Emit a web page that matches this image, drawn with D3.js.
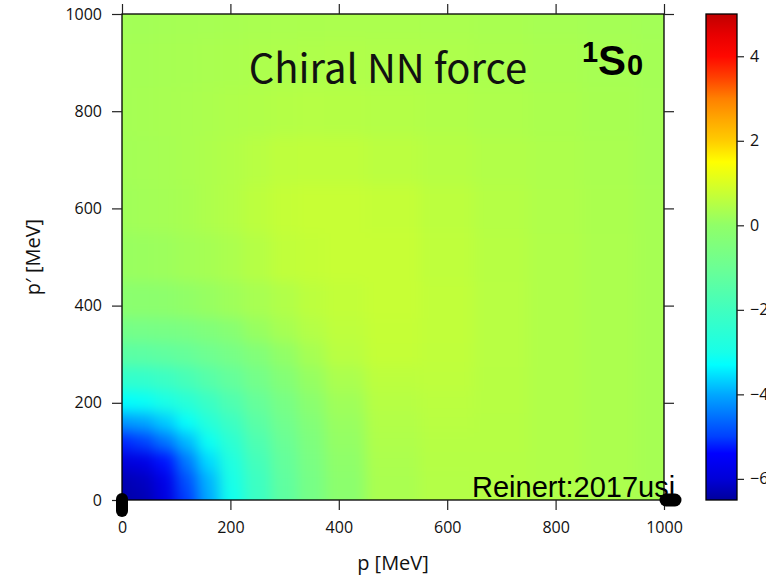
<!DOCTYPE html>
<html><head><meta charset="utf-8">
<script src="https://cdn.jsdelivr.net/npm/d3@7"></script>
<style>html,body{margin:0;padding:0;background:#fff;overflow:hidden}</style>
</head><body><svg id="c" width="766" height="576"></svg>
<script>
// momentum grid nodes (MeV)
const pNodes      = [0, 40, 80, 120, 160, 200, 250, 300, 350, 400, 500, 600, 700, 800, 900, 1000];
const pPrimeNodes = [0, 40, 80, 120, 160, 200, 250, 300, 350, 400, 500, 600, 700, 800, 900, 1000];
// potential V(p, p') ; one row per p' node, one column per p node
const potential = [
  [-6.40,-6.31,-5.89,-5.02,-4.00,-3.09,-2.13,-1.31,-0.71,-0.13, 0.35, 0.48, 0.50, 0.45, 0.38, 0.30],
  [-6.32,-6.19,-5.76,-4.84,-3.90,-3.00,-2.07,-1.28,-0.69,-0.11, 0.35, 0.48, 0.50, 0.45, 0.38, 0.30],
  [-5.95,-5.80,-5.29,-4.45,-3.60,-2.80,-1.91,-1.18,-0.62,-0.04, 0.38, 0.50, 0.50, 0.45, 0.38, 0.30],
  [-5.17,-4.99,-4.50,-3.87,-3.16,-2.49,-1.69,-1.04,-0.51, 0.05, 0.42, 0.52, 0.52, 0.45, 0.38, 0.30],
  [-4.18,-4.05,-3.73,-3.23,-2.67,-2.09,-1.41,-0.87,-0.36, 0.12, 0.46, 0.55, 0.52, 0.45, 0.38, 0.30],
  [-3.30,-3.20,-2.95,-2.59,-2.15,-1.67,-1.13,-0.66,-0.15, 0.22, 0.52, 0.58, 0.53, 0.45, 0.38, 0.30],
  [-2.35,-2.29,-2.11,-1.83,-1.51,-1.18,-0.77,-0.35, 0.08, 0.36, 0.60, 0.62, 0.53, 0.45, 0.38, 0.30],
  [-1.40,-1.37,-1.28,-1.14,-0.93,-0.70,-0.39, 0.02, 0.30, 0.55, 0.70, 0.65, 0.54, 0.45, 0.38, 0.30],
  [-0.75,-0.73,-0.67,-0.58,-0.44,-0.25, 0.10, 0.30, 0.48, 0.62, 0.72, 0.66, 0.54, 0.45, 0.38, 0.30],
  [-0.15,-0.13,-0.08, 0.02, 0.10, 0.20, 0.32, 0.45, 0.60, 0.68, 0.74, 0.66, 0.54, 0.45, 0.38, 0.30],
  [ 0.12, 0.14, 0.18, 0.24, 0.30, 0.38, 0.50, 0.65, 0.70, 0.74, 0.74, 0.64, 0.53, 0.44, 0.38, 0.30],
  [ 0.22, 0.25, 0.28, 0.33, 0.40, 0.48, 0.60, 0.70, 0.74, 0.74, 0.70, 0.60, 0.50, 0.43, 0.37, 0.30],
  [ 0.26, 0.28, 0.31, 0.35, 0.40, 0.46, 0.54, 0.62, 0.64, 0.63, 0.58, 0.52, 0.46, 0.40, 0.35, 0.28],
  [ 0.28, 0.30, 0.32, 0.35, 0.38, 0.42, 0.45, 0.49, 0.51, 0.50, 0.48, 0.45, 0.41, 0.37, 0.33, 0.28],
  [ 0.28, 0.29, 0.31, 0.33, 0.35, 0.37, 0.39, 0.41, 0.42, 0.43, 0.42, 0.40, 0.37, 0.34, 0.31, 0.27],
  [ 0.25, 0.26, 0.28, 0.30, 0.31, 0.33, 0.35, 0.36, 0.37, 0.38, 0.38, 0.36, 0.34, 0.31, 0.28, 0.25]
];
const axisTicks  = [0, 200, 400, 600, 800, 1000];
const colorTicks = [4, 2, 0, -2, -4, -6];
const colorRange = [-6.5, 5];

// colour map (style)
const cmapStops  = [-6.5,-6.0,-5.4,-5.0,-4.0,-3.3,-3.0,-2.0,-1.0,0.0,1.5,2.0,2.5,3.0,3.5,4.0,4.5,5.0];
const cmapColors = ["#00009c","#0000d8","#0000ff","#0040ff","#00a8ff","#00ffff","#18ffe8","#40ffbf","#6cff94","#90ff68","#ffff00","#ffcc00","#ffa800","#ff8000","#ff4000","#ff0800","#e80000","#c00000"];

const svg = d3.select('#c');
svg.append('rect').attr('width',766).attr('height',576).attr('fill','#fff');

const x = d3.scaleLinear().domain([0,1000]).range([122,664]);
const y = d3.scaleLinear().domain([0,1000]).range([500,14]);
const color = d3.scaleLinear().domain(cmapStops).range(cmapColors).clamp(true);

const defs = svg.append('defs');
defs.append('clipPath').attr('id','plotClip').append('rect')
  .attr('x',x(0)).attr('y',y(1000)).attr('width',x(1000)-x(0)).attr('height',y(0)-y(1000));

// cell boundaries (midpoints between nodes, extended past the frame so the smoothing stays opaque)
function bounds(nodes){
  const b=[nodes[0]-60];
  for(let k=1;k<nodes.length;k++) b.push((nodes[k-1]+nodes[k])/2);
  b.push(nodes[nodes.length-1]+60);
  return b;
}
const bx = bounds(pNodes), by = bounds(pPrimeNodes);
const cells = [];
potential.forEach((row,i)=>row.forEach((v,j)=>cells.push({i,j,v})));

const heat = svg.append('g').attr('clip-path','url(#plotClip)').append('g')
  .style('filter','blur(7px)');
heat.selectAll('rect').data(cells).join('rect')
  .attr('x',d=>x(bx[d.j])-0.5)
  .attr('width',d=>x(bx[d.j+1])-x(bx[d.j])+1)
  .attr('y',d=>y(by[d.i+1])-0.5)
  .attr('height',d=>y(by[d.i])-y(by[d.i+1])+1)
  .attr('fill',d=>color(d.v));

// frame
svg.append('rect').attr('x',x(0)).attr('y',y(1000)).attr('width',x(1000)-x(0)).attr('height',y(0)-y(1000))
  .attr('fill','none').attr('stroke','#000').attr('stroke-width',1.3);

const fontT = '"Open Sans", "Noto Sans", sans-serif';
function styleAxis(g){
  g.select('.domain').remove();
  g.selectAll('.tick line').attr('stroke','#222').attr('stroke-width',1.2);
  g.selectAll('.tick text').attr('fill','#111').style('font-family',fontT).style('font-size','16px');
}
const fmt = d3.format('d');
svg.append('g').attr('transform',`translate(${x(0)},0)`)
  .call(d3.axisLeft(y).tickValues(axisTicks).tickFormat(fmt).tickSize(10).tickPadding(10)).call(styleAxis);
svg.append('g').attr('transform',`translate(0,${y(0)})`)
  .call(d3.axisBottom(x).tickValues(axisTicks).tickFormat(fmt).tickSize(10).tickPadding(12)).call(styleAxis);
svg.append('g').attr('transform',`translate(0,${y(1000)})`)
  .call(d3.axisTop(x).tickValues(axisTicks).tickSize(10).tickFormat('')).call(styleAxis);
svg.append('g').attr('transform',`translate(${x(1000)},0)`)
  .call(d3.axisRight(y).tickValues(axisTicks).tickSize(10).tickFormat('')).call(styleAxis);

// axis titles
svg.append('text').attr('x',393).attr('y',570).attr('text-anchor','middle')
  .style('font-family',fontT).style('font-size','20px').attr('fill','#111').text('p [MeV]');
svg.append('text').attr('transform','translate(40,257) rotate(-90)').attr('text-anchor','middle')
  .style('font-family',fontT).style('font-size','20px').attr('fill','#111').text('p\u2032 [MeV]');

// colour key
const cy = d3.scaleLinear().domain(colorRange).range([500,14]);
const grad = defs.append('linearGradient').attr('id','cgrad').attr('x1',0).attr('y1',1).attr('x2',0).attr('y2',0);
cmapStops.forEach((s,k)=>grad.append('stop')
  .attr('offset',(s-colorRange[0])/(colorRange[1]-colorRange[0])).attr('stop-color',cmapColors[k]));
svg.append('rect').attr('x',706).attr('y',cy(colorRange[1])).attr('width',31)
  .attr('height',cy(colorRange[0])-cy(colorRange[1])).attr('fill','url(#cgrad)')
  .attr('stroke','#000').attr('stroke-width',1.3);
svg.append('g').attr('transform','translate(737,0)')
  .call(d3.axisRight(cy).tickValues(colorTicks).tickSize(7).tickPadding(6)).call(styleAxis);

// annotations
svg.append('text').attr('x',388).attr('y',83).attr('text-anchor','middle')
  .style('font-family','"Noto Sans CJK SC", "Noto Sans", sans-serif').style('font-weight',400)
  .style('font-size','40px').attr('fill','#111').text('Chiral NN force');
const lab = svg.append('g').style('font-family','"Liberation Sans", Arial, sans-serif').style('font-weight','bold').attr('fill','#000');
lab.append('text').attr('x',582).attr('y',62).style('font-size','29px').text('1');
lab.append('text').attr('x',598).attr('y',75).style('font-size','42px').text('S');
lab.append('text').attr('x',627).attr('y',75).style('font-size','29px').text('0');
svg.append('text').attr('x',472).attr('y',497)
  .style('font-family','"Liberation Sans", Arial, sans-serif').style('font-size','29px').attr('fill','#000')
  .text('Reinert:2017usi');

// black end markers on the axes
svg.append('line').attr('x1',x(0)).attr('x2',x(0)).attr('y1',499).attr('y2',511)
  .attr('stroke','#000').attr('stroke-width',12).attr('stroke-linecap','round');
svg.append('line').attr('x1',666).attr('x2',675).attr('y1',500).attr('y2',500)
  .attr('stroke','#000').attr('stroke-width',13).attr('stroke-linecap','round');
</script></body></html>
